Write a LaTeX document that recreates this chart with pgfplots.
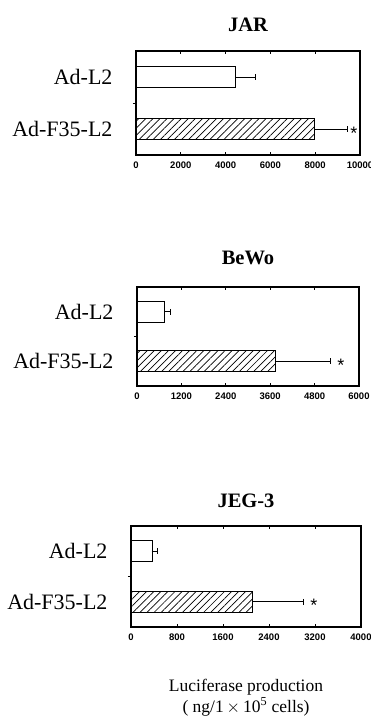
\documentclass[border=0pt]{standalone}
\usepackage{fontspec}
\setmainfont{Liberation Serif}
\newfontfamily\tickfont{Liberation Sans}
\usepackage{pgfplots}
\pgfplotsset{compat=1.18}
\usetikzlibrary{patterns.meta}

\tikzset{starnode/.style={font=\tickfont\fontsize{18}{18}\selectfont, anchor=base, yshift=-10pt, inner sep=0pt}}

\pgfplotsset{
  cellaxis/.style={
    scale only axis, width=224pt, height=104pt,
    xbar, bar width=0.42, bar shift=0pt,
    xmin=0, ymin=0.5, ymax=2.5,
    ytick={1,2}, yticklabels={Ad-F35-L2, Ad-L2},
    minor ytick={1.5},
    ytick pos=left,
    scaled x ticks=false,
    major tick length=3pt, minor tick length=3pt,
    major y tick style={draw=none},
    tick style={black, line width=0.8pt},
    yticklabel style={font=\fontsize{22}{22}\selectfont, xshift=-17pt},
    xticklabel style={font=\tickfont\bfseries\fontsize{9.5}{9.5}\selectfont, yshift=-3pt},
    /pgf/number format/assume math mode=true,
    axis line style={line width=1.2pt},
    title style={font=\bfseries\fontsize{20.5}{20.5}\selectfont, anchor=base, at={(0.5,1)}},
    error bars/x dir=plus, error bars/x explicit,
    error bars/error mark=|,
    error bars/error bar style={line width=0.8pt, black},
    error bars/error mark options={line width=0.8pt, mark size=3pt, black},
  },
  lbar/.style={fill=white, draw=black, line width=0.9pt},
  hbar/.style={draw=black, line width=0.9pt, pattern={Lines[angle=45,distance=5pt,line width=0.7pt]}, pattern color=black},
}

\begin{document}
\begin{tikzpicture}
\path[use as bounding box] (0pt,0pt) rectangle (370pt,-717pt);

% JAR
\begin{axis}[cellaxis, at={(136pt,-155pt)}, anchor=south west,
  xmax=10000, xtick={0,2000,4000,6000,8000,10000},
  xticklabels={0,2000,4000,6000,8000,10000},
  title={JAR}, title style={yshift=14pt}]
\addplot[lbar] coordinates {(4460,2) +- (850,0)};
\addplot[hbar] coordinates {(7950,1) +- (1470,0)};
\node[starnode] at (axis cs:9730,1) {*};
\end{axis}

% BeWo
\begin{axis}[cellaxis, at={(137pt,-386pt)}, anchor=south west, width=222pt, height=99pt,
  xmax=6000, xtick={0,1200,2400,3600,4800,6000},
  xticklabels={0,1200,2400,3600,4800,6000},
  title={BeWo}, title style={yshift=17pt}]
\addplot[lbar] coordinates {(730,2) +- (160,0)};
\addplot[hbar] coordinates {(3730,1) +- (1490,0)};
\node[starnode] at (axis cs:5510,1) {*};
\end{axis}

% JEG-3
\begin{axis}[cellaxis, at={(131pt,-627pt)}, anchor=south west, width=230pt, height=101pt,
  xmax=4000, xtick={0,800,1600,2400,3200,4000},
  xticklabels={0,800,1600,2400,3200,4000},
  title={JEG-3}, title style={yshift=13pt}]
\addplot[lbar] coordinates {(365,2) +- (90,0)};
\addplot[hbar] coordinates {(2120,1) +- (870,0)};
\node[starnode] at (axis cs:3180,1) {*};
\end{axis}

\node[font=\fontsize{17.5}{17.5}\selectfont, inner sep=0pt] at (246pt,-687pt) {Luciferase production};
\node[font=\fontsize{17.5}{17.5}\selectfont, inner sep=0pt] at (246pt,-707pt) {( ng/1\,$\times$\,10\textsuperscript{5} cells)};
\end{tikzpicture}
\end{document}
